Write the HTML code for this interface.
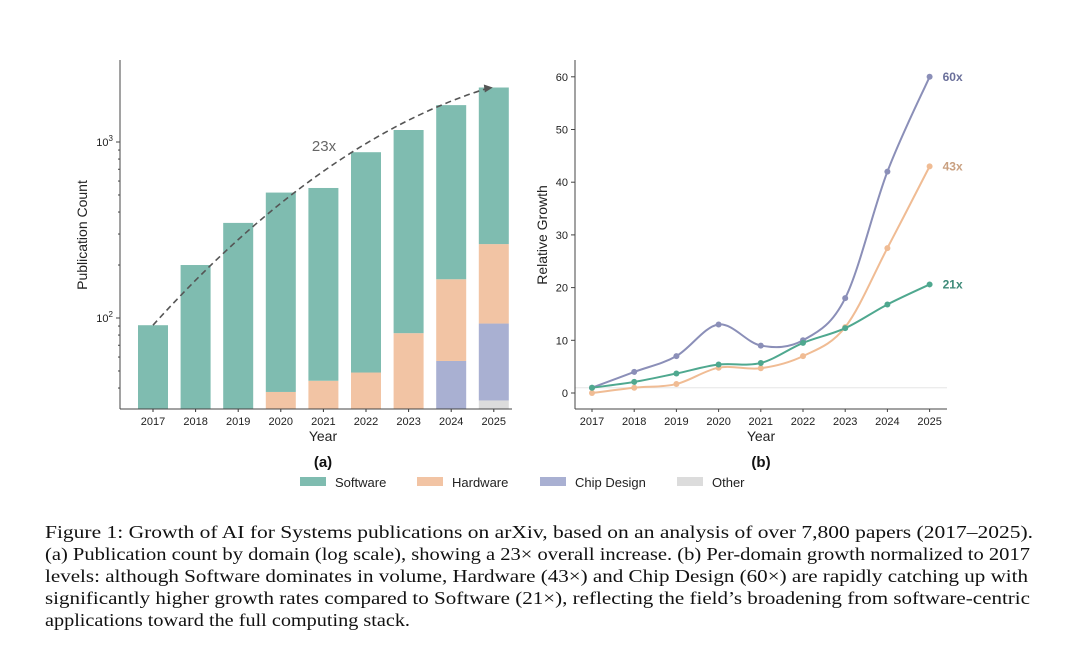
<!DOCTYPE html>
<html><head><meta charset="utf-8"><style>
html,body{margin:0;padding:0;background:#fff;}
svg{display:block;font-family:"Liberation Sans","DejaVu Sans",sans-serif;}
</style></head><body>
<svg id="fig" width="1080" height="666" viewBox="0 0 1080 666" xmlns="http://www.w3.org/2000/svg">
<g id="chartA"></g>
<g id="chartB"></g>
<g font-size="13" fill="#222">
  <g><rect x="300" y="477" width="26" height="9" fill="#7fbcb0"/><text x="335" y="487">Software</text></g>
  <g><rect x="417" y="477" width="26" height="9" fill="#f2c4a4"/><text x="452" y="487">Hardware</text></g>
  <g><rect x="540" y="477" width="26" height="9" fill="#a9b0d2"/><text x="575" y="487">Chip Design</text></g>
  <g><rect x="677" y="477" width="26" height="9" fill="#dcdcdc"/><text x="712" y="487">Other</text></g>
</g>
<g font-family="'Liberation Serif',serif" font-size="18" fill="#111">
  <text x="45" y="538" textLength="988" lengthAdjust="spacingAndGlyphs">Figure 1: Growth of AI for Systems publications on arXiv, based on an analysis of over 7,800 papers (2017–2025).</text>
  <text x="45" y="560" textLength="985" lengthAdjust="spacingAndGlyphs">(a) Publication count by domain (log scale), showing a 23× overall increase. (b) Per-domain growth normalized to 2017</text>
  <text x="45" y="582" textLength="983" lengthAdjust="spacingAndGlyphs">levels: although Software dominates in volume, Hardware (43×) and Chip Design (60×) are rapidly catching up with</text>
  <text x="45" y="604" textLength="985" lengthAdjust="spacingAndGlyphs">significantly higher growth rates compared to Software (21×), reflecting the field’s broadening from software-centric</text>
  <text x="45" y="626" textLength="365" lengthAdjust="spacingAndGlyphs">applications toward the full computing stack.</text>
</g>
</svg>
<script>
const years = [2017,2018,2019,2020,2021,2022,2023,2024,2025];
// chart (a) counts per domain
const otherCounts = [0,0,0,0,0,0,0,0,34];
const chipCounts = [0,0,0,0,0,0,0,57,59];
const hardwareCounts = [0,0,0,38,44,49,82,109,170];
const softwareCounts = [91,200,347,478,504,826,1088,1454,1777];
const growthFactorLabel = "23x";
// chart (b) relative growth
const chipGrowth = [1,4,7,13,9,10,18,42,60];
const hardwareGrowth = [0,1,1.7,4.8,4.7,7,12.5,27.5,43];
const softwareGrowth = [1,2.1,3.7,5.4,5.7,9.5,12.3,16.8,20.6];
const growthLabels = ["60x","43x","21x"];
const yTicksB = [0,10,20,30,40,50,60];

const NS="http://www.w3.org/2000/svg";
function mk(parent,tag,attrs,text){const e=document.createElementNS(NS,tag);for(const k in attrs)e.setAttribute(k,attrs[k]);if(text!==undefined)e.textContent=text;parent.appendChild(e);return e;}

// ---- Chart A ----
const A=document.getElementById('chartA');
const axA={x0:120,yBot:409,yTop:60,xR:512};
const xA=i=>153+i*42.6;
const yA=v=>318-(Math.log10(Math.max(v,1))-2)*176;
const colors={sw:"#7fbcb0",hw:"#f2c4a4",chip:"#a9b0d2",other:"#dcdcdc"};
years.forEach((yr,i)=>{
  let base=0;
  const layers=[["other",otherCounts[i],colors.other],["chip",chipCounts[i],colors.chip],["hardware",hardwareCounts[i],colors.hw],["software",softwareCounts[i],colors.sw]];
  layers.forEach(([nm,v,c])=>{
    if(v<=0)return;
    const top=base+v;
    const yb=base<=0?axA.yBot:Math.min(axA.yBot,yA(base));
    const yt=yA(top);
    if(yt<yb){
      const r=mk(A,'rect',{x:xA(i)-15,y:yt,width:30,height:yb-yt,fill:c});
      
      
    }
    base=top;
  });
  const t=mk(A,'text',{x:xA(i),y:axA.yBot+16,'font-size':11,'text-anchor':'middle',fill:'#222'},yr);
  
  
  mk(A,'line',{x1:xA(i),x2:xA(i),y1:axA.yBot,y2:axA.yBot+3,stroke:'#333'});
});
// trend curve
const tot=i=>otherCounts[i]+chipCounts[i]+hardwareCounts[i]+softwareCounts[i];
const p0=[xA(0),yA(tot(0))], p2=[xA(8)-7,yA(tot(8))+1];
const cx=(p0[0]+p2[0])/2, cy=p2[1]+(p0[1]-p2[1])*0.22;
const tr=mk(A,'path',{d:`M${p0[0]},${p0[1]} Q${cx},${cy} ${p2[0]},${p2[1]}`,fill:'none',stroke:'#555','stroke-width':1.6,'stroke-dasharray':'6,4'});


mk(A,'path',{d:`M${p2[0]+6},${p2[1]-1} L${p2[0]-3},${p2[1]-4} L${p2[0]-2},${p2[1]+4}Z`,fill:'#555'});
const gl=mk(A,'text',{x:324,y:151,'font-size':15,'text-anchor':'middle',fill:'#666'},growthFactorLabel);


mk(A,'line',{x1:axA.x0,x2:axA.x0,y1:axA.yTop,y2:axA.yBot,stroke:'#444'});
mk(A,'line',{x1:axA.x0,x2:axA.xR,y1:axA.yBot,y2:axA.yBot,stroke:'#444'});
[[100,'2'],[1000,'3']].forEach(([v,e])=>{
  const y=yA(v);
  mk(A,'line',{x1:axA.x0-4,x2:axA.x0,y1:y,y2:y,stroke:'#444'});
  const t=mk(A,'text',{x:axA.x0-7,y:y+4,'font-size':11,'text-anchor':'end',fill:'#222'});
  
  
  t.appendChild(document.createTextNode('10'));
  mk(t,'tspan',{dy:-5,'font-size':8},e);
});
for(let d=1;d<=2;d++)for(let m=2;m<=9;m++){const v=m*Math.pow(10,d);const y=yA(v);if(y<=axA.yBot&&y>=axA.yTop)mk(A,'line',{x1:axA.x0-2,x2:axA.x0,y1:y,y2:y,stroke:'#444'});}
let t;
t=mk(A,'text',{x:323,y:441,'font-size':14,'text-anchor':'middle',fill:'#222'},'Year');

t=mk(A,'text',{x:0,y:0,'font-size':14,'text-anchor':'middle',fill:'#222',transform:'translate(87,235) rotate(-90)'},'Publication Count');

t=mk(A,'text',{x:323,y:467,'font-size':15,'font-weight':'bold','text-anchor':'middle',fill:'#111'},'(a)');


// ---- Chart B ----
const B=document.getElementById('chartB');
const axB={x0:575,yBot:409,yTop:60,xR:947};
const xB=i=>592+i*42.2;
const yB=v=>393-v*5.27;
mk(B,'line',{x1:axB.x0,x2:axB.xR,y1:yB(1),y2:yB(1),stroke:'#e6e6e6','stroke-width':1});
function smooth(pts){let d=`M${pts[0][0]},${pts[0][1]}`;for(let i=0;i<pts.length-1;i++){const p0=pts[Math.max(i-1,0)],p1=pts[i],p2=pts[i+1],p3=pts[Math.min(i+2,pts.length-1)];const c1=[p1[0]+(p2[0]-p0[0])/6,p1[1]+(p2[1]-p0[1])/6];const c2=[p2[0]-(p3[0]-p1[0])/6,p2[1]-(p3[1]-p1[1])/6];d+=` C${c1[0]},${c1[1]} ${c2[0]},${c2[1]} ${p2[0]},${p2[1]}`;}return d;}
const series=[["chip",chipGrowth,"#8b8fb8","#6a6f9a",growthLabels[0]],["hardware",hardwareGrowth,"#f0bc94","#c9a080",growthLabels[1]],["software",softwareGrowth,"#4fa88f","#3d8a78",growthLabels[2]]];
series.forEach(([nm,vals,c,lc,lab])=>{
  const pts=vals.map((v,i)=>[xB(i),yB(v)]);
  const p=mk(B,'path',{d:smooth(pts),fill:'none',stroke:c,'stroke-width':2});
  
  
  pts.forEach((q,i)=>{
    const m=mk(B,'circle',{cx:q[0],cy:q[1],r:3,fill:c});
    
    
  });
  const l=mk(B,'text',{x:xB(8)+13,y:yB(vals[8])+4,'font-size':12,'font-weight':'bold',fill:lc},lab);
  
  
});
mk(B,'line',{x1:axB.x0,x2:axB.x0,y1:axB.yTop,y2:axB.yBot,stroke:'#444'});
mk(B,'line',{x1:axB.x0,x2:axB.xR,y1:axB.yBot,y2:axB.yBot,stroke:'#444'});
yTicksB.forEach(v=>{
  const y=yB(v);
  mk(B,'line',{x1:axB.x0-4,x2:axB.x0,y1:y,y2:y,stroke:'#444'});
  const tt=mk(B,'text',{x:axB.x0-7,y:y+4,'font-size':11,'text-anchor':'end',fill:'#222'},v);
  
  
});
years.forEach((yr,i)=>{
  mk(B,'line',{x1:xB(i),x2:xB(i),y1:axB.yBot,y2:axB.yBot+3,stroke:'#444'});
  const tt=mk(B,'text',{x:xB(i),y:axB.yBot+16,'font-size':11,'text-anchor':'middle',fill:'#222'},yr);
  
  
});
t=mk(B,'text',{x:761,y:441,'font-size':14,'text-anchor':'middle',fill:'#222'},'Year');

t=mk(B,'text',{x:0,y:0,'font-size':14,'text-anchor':'middle',fill:'#222',transform:'translate(547,235) rotate(-90)'},'Relative Growth');

t=mk(B,'text',{x:761,y:467,'font-size':15,'font-weight':'bold','text-anchor':'middle',fill:'#111'},'(b)');

</script>
</body></html>
